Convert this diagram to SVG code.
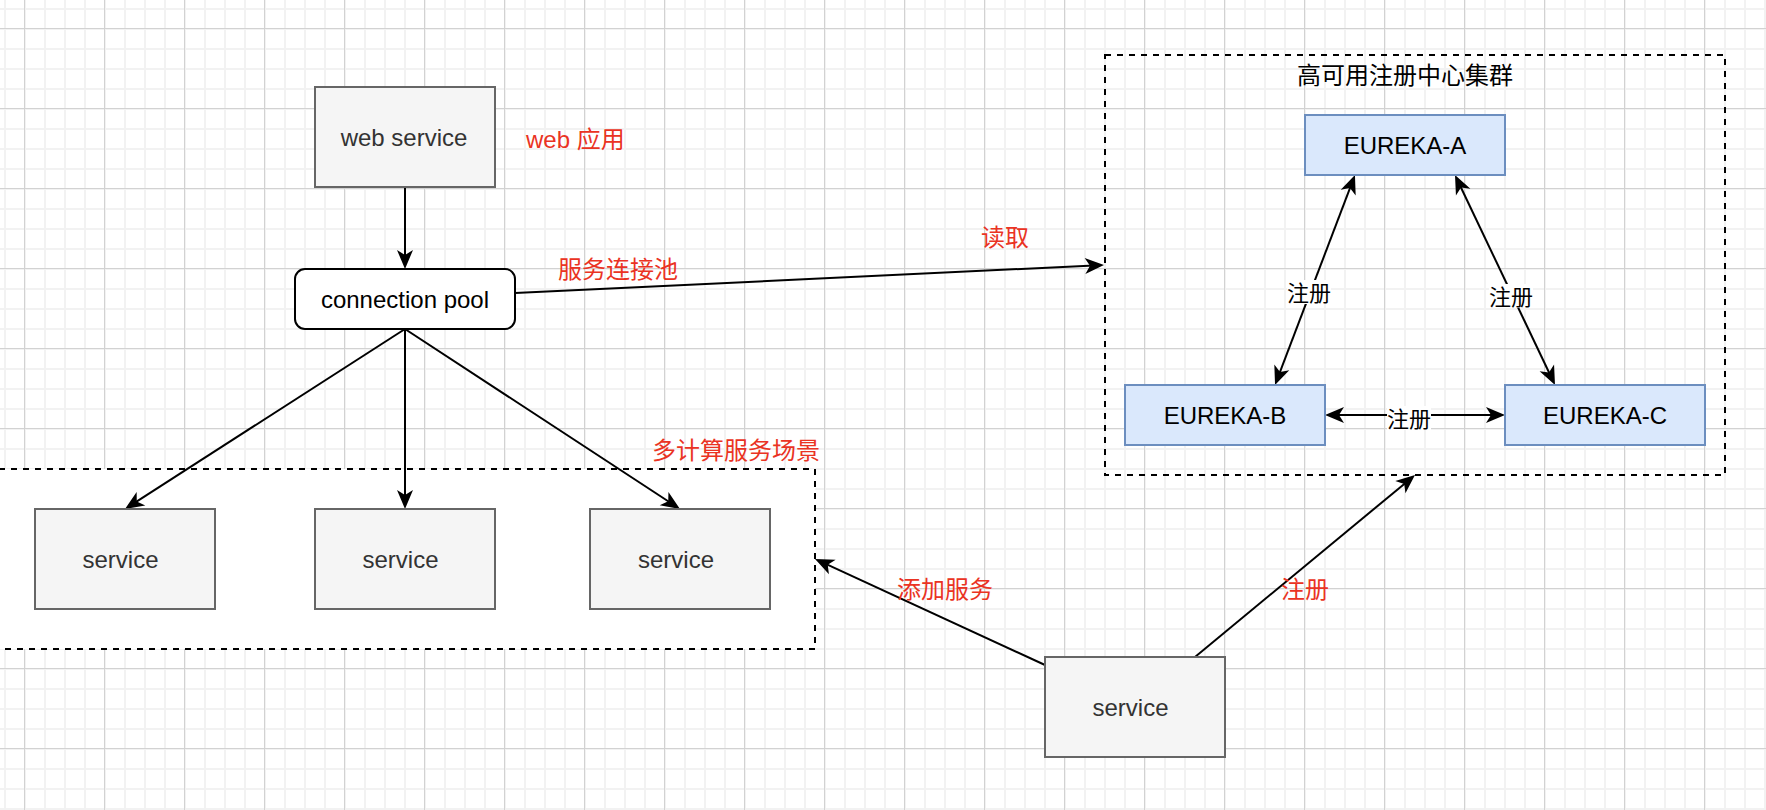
<svg xmlns="http://www.w3.org/2000/svg" width="1766" height="810" viewBox="0 0 1766 810">
<style>
.t{font-family:"Liberation Sans","Noto Sans CJK SC",sans-serif;font-size:24px;text-anchor:middle}
.dark{fill:#333333}
.blk{fill:#000000}
.red{fill:#EA3323}
.lbl{font-family:"Liberation Sans","Noto Sans CJK SC",sans-serif;font-size:22px;text-anchor:middle;fill:#000}
.gray{fill:#f5f5f5;stroke:#666666;stroke-width:2}
.blue{fill:#dae8fc;stroke:#6c8ebf;stroke-width:2}
.edge{fill:none;stroke:#000;stroke-width:2}
.dash{stroke:#000;stroke-width:2;stroke-dasharray:6 6}
</style>
<defs>
<pattern id="minor" width="20" height="20" patternUnits="userSpaceOnUse" x="4" y="8">
<path d="M1,0 V20 M0,1 H20" stroke="#f2f2f2" stroke-width="2" fill="none"/>
</pattern>
<pattern id="major" width="80" height="80" patternUnits="userSpaceOnUse" x="24" y="28">
<path d="M0.5,0 V80 M0,0.5 H80" stroke="#d2d2d2" stroke-width="1" fill="none"/>
</pattern>
<marker id="arr" markerUnits="userSpaceOnUse" orient="auto-start-reverse" refX="0" refY="0" markerWidth="40" markerHeight="40" viewBox="-20 -20 40 40" overflow="visible">
<path d="M10,0 L-9,-8 L-4,0 L-9,8 Z" fill="#000"/>
</marker>
</defs>
<rect width="1766" height="810" fill="#ffffff"/>
<rect width="1766" height="810" fill="url(#minor)"/>
<rect width="1766" height="810" fill="url(#major)"/>

<g id="cluster-services">
<rect x="-25" y="469" width="840" height="180" fill="#ffffff" class="dash"/>
<text class="t red" x="736" y="459">多计算服务场景</text>
</g>
<g id="cluster-eureka">
<rect x="1105" y="55" width="620" height="420" fill="none" class="dash"/>
<text class="t blk" x="1405" y="84">高可用注册中心集群</text>
</g>

<g id="connectors">
<path class="edge" d="M405,187 L405,259" marker-end="url(#arr)"/>
<path class="edge" d="M405,329 L133.4,503.6" marker-end="url(#arr)"/>
<path class="edge" d="M405,329 L405,499" marker-end="url(#arr)"/>
<path class="edge" d="M405,329 L671.6,503.5" marker-end="url(#arr)"/>
<path class="edge" d="M515,293 L1094,265.5" marker-end="url(#arr)"/>
<path class="edge" d="M1278.6,375.7 L1351.4,184.3" marker-start="url(#arr)" marker-end="url(#arr)"/>
<path class="edge" d="M1459.3,184 L1550.7,376" marker-start="url(#arr)" marker-end="url(#arr)"/>
<path class="edge" d="M1335,415 L1495,415" marker-start="url(#arr)" marker-end="url(#arr)"/>
<path class="edge" d="M1045,665 L824.1,563.2" marker-end="url(#arr)"/>
<path class="edge" d="M1195,657 L1407.3,481.4" marker-end="url(#arr)"/>
<rect x="1287" y="280" width="44" height="24" fill="#ffffff"/>
<text class="lbl" x="1309" y="300.5">注册</text>
<rect x="1489" y="284" width="44" height="24" fill="#ffffff"/>
<text class="lbl" x="1511" y="304.5">注册</text>
<rect x="1387" y="406" width="44" height="24" fill="#ffffff"/>
<text class="lbl" x="1409" y="426.5">注册</text>
<text class="t red" x="618" y="278">服务连接池</text>
<text class="t red" x="1005" y="246">读取</text>
<text class="t red" x="945" y="598">添加服务</text>
<text class="t red" x="1305" y="598">注册</text>
</g>

<g id="web-service">
<rect class="gray" x="315" y="87" width="180" height="100"/>
<text class="t dark" x="404" y="145.5">web service</text>
</g>
<g id="web-app-label">
<text class="t red" x="526" y="148" style="text-anchor:start">web 应用</text>
</g>
<g id="connection-pool">
<rect x="295" y="269" width="220" height="60" rx="10" ry="10" fill="#ffffff" stroke="#000" stroke-width="2"/>
<text class="t blk" x="405" y="307.5">connection pool</text>
</g>
<g id="service-1">
<rect class="gray" x="35" y="509" width="180" height="100"/>
<text class="t dark" x="120.5" y="567.5">service</text>
</g>
<g id="service-2">
<rect class="gray" x="315" y="509" width="180" height="100"/>
<text class="t dark" x="400.5" y="567.5">service</text>
</g>
<g id="service-3">
<rect class="gray" x="590" y="509" width="180" height="100"/>
<text class="t dark" x="676" y="567.5">service</text>
</g>
<g id="service-new">
<rect class="gray" x="1045" y="657" width="180" height="100"/>
<text class="t dark" x="1130.5" y="715.5">service</text>
</g>
<g id="eureka-a">
<rect class="blue" x="1305" y="115" width="200" height="60"/>
<text class="t blk" x="1405" y="153.5">EUREKA-A</text>
</g>
<g id="eureka-b">
<rect class="blue" x="1125" y="385" width="200" height="60"/>
<text class="t blk" x="1225" y="423.5">EUREKA-B</text>
</g>
<g id="eureka-c">
<rect class="blue" x="1505" y="385" width="200" height="60"/>
<text class="t blk" x="1605" y="423.5">EUREKA-C</text>
</g>
</svg>
